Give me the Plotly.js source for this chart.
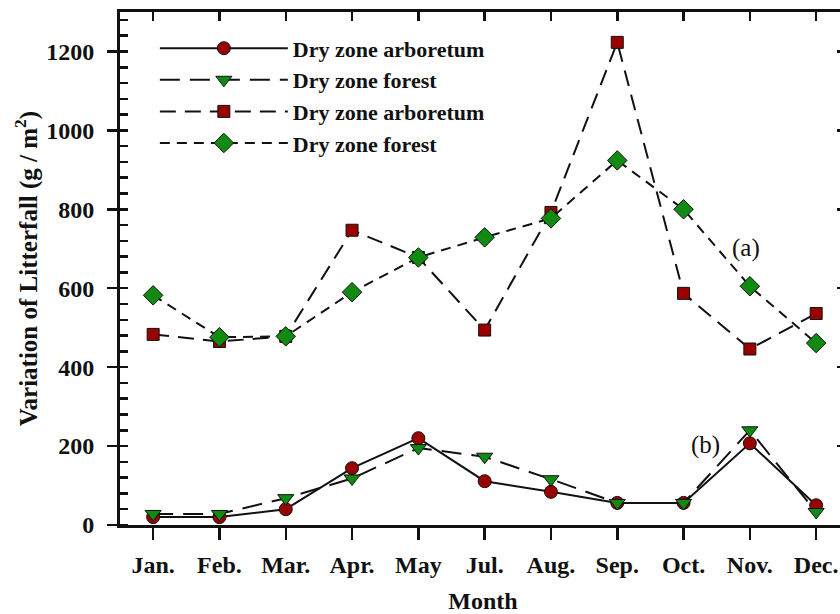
<!DOCTYPE html>
<html>
<head>
<meta charset="utf-8">
<script src="https://cdn.plot.ly/plotly-3.0.1.min.js"></script>
<style>
html,body{margin:0;padding:0;overflow:hidden;background:#fff;}
#chart{width:870px;height:614px;}
</style>
</head>
<body>
<div id="chart"></div>
<script>
const months = ["Jan.","Feb.","Mar.","Apr.","May","Jul.","Aug.","Sep.","Oct.","Nov.","Dec."];
const arboretumB = [20, 20, 40, 144, 220, 111, 84, 56, 56, 207, 50];
const forestB    = [28, 28, 68, 118, 195, 173, 116, 56, 56, 240, 33];
const arboretumA = [483, 465, 478, 747, 678, 494, 792, 1223, 587, 446, 536];
const forestA    = [582, 476, 478, 590, 678, 729, 777, 924, 800, 605, 461];
const seriesNames = ["Dry zone arboretum","Dry zone forest","Dry zone arboretum","Dry zone forest"];

const red = "#990000", green = "#108a10";
const serif = "Liberation Serif";
const xRange = [-0.5, 10.45];
const yRange = [0, 1300];

const traces = [
  {x: months, y: arboretumB, name: seriesNames[0], mode: "lines+markers",
   line: {color: "#111", width: 2, dash: "solid"},
   marker: {symbol: "circle", size: 13, color: red, line: {color: "#111", width: 1}}},
  {x: months, y: forestB, name: seriesNames[1], mode: "lines+markers",
   line: {color: "#111", width: 2, dash: "20px,10px"},
   marker: {symbol: "triangle-down", size: 14, color: green, line: {color: "#111", width: 1}}},
  {x: months, y: arboretumA, name: seriesNames[2], mode: "lines+markers",
   line: {color: "#111", width: 2, dash: "16px,9px"},
   marker: {symbol: "square", size: 12, color: red, line: {color: "#111", width: 1}}},
  {x: months, y: forestA, name: seriesNames[3], mode: "lines+markers",
   line: {color: "#111", width: 2, dash: "10px,7px"},
   marker: {symbol: "diamond", size: 15, color: green, line: {color: "#111", width: 1}}},
  {x: months, y: arboretumB, xaxis: "x2", yaxis: "y2", mode: "none", showlegend: false, hoverinfo: "skip"}
];

const layout = {
  width: 870, height: 614,
  margin: {l: 120, r: 24, t: 12, b: 89},
  paper_bgcolor: "#fff", plot_bgcolor: "#fff",
  font: {family: serif, color: "#111"},
  showlegend: true,
  legend: {x: 0.048, y: 0.97, xanchor: "left", yanchor: "top",
           bgcolor: "rgba(0,0,0,0)", itemwidth: 128, tracegroupgap: 0,
           font: {family: serif, size: 22, weight: "bold", color: "#111"}},
  xaxis: {type: "category", range: xRange, showgrid: false, zeroline: false,
          showline: true, linewidth: 3, linecolor: "#111",
          ticks: "outside", ticklen: 12, tickwidth: 2.5, tickcolor: "#111", ticklabelstandoff: 4,
          tickfont: {family: serif, size: 24, weight: "bold", color: "#111"},
          title: {text: "Month", font: {family: serif, size: 24, weight: "bold", color: "#111"}, standoff: 16}},
  yaxis: {range: yRange, dtick: 200, showgrid: false, zeroline: false,
          showline: true, linewidth: 3, linecolor: "#111",
          ticks: "outside", ticklen: 10, tickwidth: 2.5, tickcolor: "#111", ticklabelstandoff: 8,
          minor: {dtick: 40, ticks: "inside", ticklen: 8, tickwidth: 2.5, tickcolor: "#111", showgrid: false},
          tickfont: {family: serif, size: 24, weight: "bold", color: "#111"},
          title: {text: "Variation of Litterfall (g / m<sup>2</sup>)", font: {family: serif, size: 25, weight: "bold", color: "#111"}, standoff: 2}},
  xaxis2: {type: "category", overlaying: "x", side: "top", matches: "x", range: xRange,
           showline: true, linewidth: 3, linecolor: "#111", showgrid: false, zeroline: false,
           ticks: "inside", ticklen: 9, tickwidth: 2.5, tickcolor: "#111", showticklabels: false},
  yaxis2: {overlaying: "y", side: "right", range: yRange, dtick: 200,
           showline: true, linewidth: 3, linecolor: "#111", showgrid: false, zeroline: false,
           ticks: "inside", ticklen: 9, tickwidth: 2.5, tickcolor: "#111", showticklabels: false},
  annotations: [
    {x: 8.94, y: 701, xref: "x", yref: "y", text: "(a)", showarrow: false,
     font: {family: serif, size: 25, color: "#111"}},
    {x: 8.33, y: 203, xref: "x", yref: "y", text: "(b)", showarrow: false,
     font: {family: serif, size: 25, color: "#111"}}
  ]
};

Plotly.newPlot("chart", traces, layout, {displayModeBar: false, staticPlot: true});
</script>
</body>
</html>
